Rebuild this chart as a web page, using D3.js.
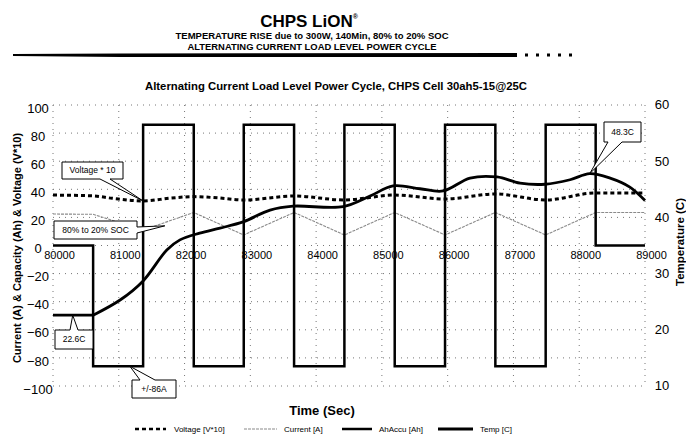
<!DOCTYPE html>
<html><head><meta charset="utf-8">
<script src="https://cdn.jsdelivr.net/npm/d3@7"></script>
<style>
body{margin:0;background:#fff;}
svg{display:block;font-family:"Liberation Sans",Arial,sans-serif;}
</style></head>
<body><svg id="c" width="686" height="436"></svg>
<script>
// ---- data ----
const xTicks = [80000,81000,82000,83000,84000,85000,86000,87000,88000,89000];
const yTicks = [-100,-80,-60,-40,-20,0,20,40,60,80,100];
const tTicks = [10,20,30,40,50,60];

// current square wave (time, A) - step after
const currentTime  = [80000,80610,81370,82140,82900,83665,84430,85195,85960,86725,87490,88250,89000];
const currentValue = [0,-86,86,-86,86,-86,86,-86,86,-86,86,0,0];

// capacity AhAccu
const capTime  = [80000,80610,81370,82140,82900,83665,84430,85195,85960,86725,87490,88250,89000];
const capValue = [22.4,22.2,11,23.5,7.5,23.5,7.5,23.5,7.5,23.5,7.5,23.5,23.5];

// voltage*10
const voltTime  = [80000,80610,80900,81370,81800,82140,82500,82900,83665,84430,85195,85960,86725,87490,88250,89000];
const voltValue = [35.9,35.3,33.6,31.7,33.8,34.8,33.9,32.4,35.2,32.4,35.9,33.1,36.7,32.4,37.4,37.4];

// temperature (C)
const tempTime  = [80000,80610,81020,81370,81730,81930,82230,82540,82890,83300,83650,84410,84820,85170,85580,85930,86340,86750,87100,87480,87860,88160,88470,88770,89000];
const tempValue = [22.6,22.6,25.3,28.7,34.2,36.0,37.2,38.1,39.2,41.3,42.0,41.9,43.8,45.6,45.1,44.7,47.0,47.2,46.1,45.9,46.7,47.8,47.0,45.4,43.0];

const svg = d3.select("#c");
const x  = d3.scaleLinear().domain([80000,89000]).range([53,645]);
const y  = d3.scaleLinear().domain([-100,100]).range([386,105]);
const yT = d3.scaleLinear().domain([10,60]).range([386,105]);
const FONT = '"Liberation Sans",Arial,sans-serif';

// ---- header ----
const t1 = svg.append("text").attr("x",309).attr("y",27).attr("text-anchor","middle")
  .attr("font-size",17).attr("font-weight","bold").text("CHPS LiON");
t1.append("tspan").attr("font-size",7).attr("dy",-8).text("®");
svg.append("text").attr("x",312).attr("y",39).attr("text-anchor","middle")
  .attr("font-size",9).attr("font-weight","bold").attr("textLength",273).attr("lengthAdjust","spacingAndGlyphs")
  .text("TEMPERATURE RISE due to 300W, 140Min, 80% to 20% SOC");
svg.append("text").attr("x",312).attr("y",50).attr("text-anchor","middle")
  .attr("font-size",9).attr("font-weight","bold").attr("textLength",249).attr("lengthAdjust","spacingAndGlyphs")
  .text("ALTERNATING CURRENT LOAD LEVEL POWER CYCLE");
svg.append("path").attr("d","M13,54 L120,53.5 L517,53 L517,57 L120,57 L13,56 Z").attr("fill","#000");
[525,536,547,558,569].forEach(px=>svg.append("rect").attr("x",px).attr("y",53.5).attr("width",3).attr("height",3).attr("fill","#000"));

svg.append("text").attr("x",336).attr("y",90).attr("text-anchor","middle")
  .attr("font-size",10).attr("font-weight","bold").attr("textLength",382).attr("lengthAdjust","spacingAndGlyphs")
  .text("Alternating Current Load Level Power Cycle, CHPS Cell 30ah5-15@25C");

// ---- gridlines ----
const grid = svg.append("g").attr("stroke","#777").attr("stroke-width",1).attr("stroke-dasharray","1,5");
grid.selectAll("line.h").data(yTicks).join("line")
  .attr("x1",x(80000)).attr("x2",x(89000)).attr("y1",d=>y(d)).attr("y2",d=>y(d));
grid.selectAll("line.v").data(xTicks).join("line")
  .attr("y1",y(100)).attr("y2",y(-100)).attr("x1",d=>x(d)).attr("x2",d=>x(d));

// ---- axes ----
const ax = svg.append("g").attr("transform",`translate(0,${y(0)})`)
  .call(d3.axisBottom(x).tickValues(xTicks).tickFormat(d3.format("d")).tickSize(0).tickPadding(6));
ax.select(".domain").remove();
ax.selectAll("text").attr("font-size",11).attr("font-family",FONT).attr("dx",6);

const ayL = svg.append("g").attr("transform",`translate(${x(80000)},0)`)
  .call(d3.axisLeft(y).tickValues(yTicks).tickSize(0));
ayL.select(".domain").remove();
ayL.selectAll("text").attr("font-size",13).attr("font-family",FONT).attr("text-anchor","middle").attr("x",-15).attr("dy","0.55em");

const ayR = svg.append("g").attr("transform",`translate(${x(89000)},0)`)
  .call(d3.axisRight(yT).tickValues(tTicks).tickSize(0));
ayR.select(".domain").remove();
ayR.selectAll("text").attr("font-size",13).attr("font-family",FONT).attr("text-anchor","middle").attr("x",17).attr("dy","0.3em");

svg.append("text").attr("transform","translate(21,248) rotate(-90)").attr("text-anchor","middle")
  .attr("font-size",11).attr("font-weight","bold").text("Current (A) & Capacity (Ah) & Voltage (V*10)");
svg.append("text").attr("transform","translate(680,242) rotate(-90)").attr("text-anchor","middle")
  .attr("dy","0.35em").attr("font-size",11.5).attr("font-weight","bold").text("Temperature (C)");
svg.append("text").attr("x",322).attr("y",415).attr("text-anchor","middle")
  .attr("font-size",13).attr("font-weight","bold").text("Time (Sec)");

// ---- series ----
const capData  = capTime.map((t,i)=>[t,capValue[i]]);
const voltData = voltTime.map((t,i)=>[t,voltValue[i]]);
const curData  = currentTime.map((t,i)=>[t,currentValue[i]]);
const tempData = tempTime.map((t,i)=>[t,tempValue[i]]);

svg.append("path").datum(capData).attr("fill","none").attr("stroke","#8a8a8a").attr("stroke-width",1.1)
  .attr("stroke-dasharray","3,1")
  .attr("d",d3.line().x(d=>x(d[0])).y(d=>y(d[1])));
svg.append("path").datum(voltData).attr("fill","none").attr("stroke","#000").attr("stroke-width",3)
  .attr("stroke-dasharray","4,3")
  .attr("d",d3.line().curve(d3.curveMonotoneX).x(d=>x(d[0])).y(d=>y(d[1])));
svg.append("path").datum(curData).attr("fill","none").attr("stroke","#000").attr("stroke-width",2.5)
  .attr("d",d3.line().curve(d3.curveStepAfter).x(d=>x(d[0])).y(d=>y(d[1])));
// temperature: flat rest segment, then smooth rise
svg.append("path").datum(tempData.slice(0,2)).attr("fill","none").attr("stroke","#000").attr("stroke-width",2.8)
  .attr("d",d3.line().x(d=>x(d[0])).y(d=>yT(d[1])));
svg.append("path").datum(tempData.slice(1)).attr("fill","none").attr("stroke","#000").attr("stroke-width",2.8)
  .attr("stroke-linejoin","round")
  .attr("d",d3.line().curve(d3.curveCatmullRom.alpha(0.5)).x(d=>x(d[0])).y(d=>yT(d[1])));

// ---- callouts ----
function callout(bx,by,bw,bh,edge,a,b,tx,ty,label){
  let p;
  if(edge==="bottom") p=`M${bx},${by}L${bx+bw},${by}L${bx+bw},${by+bh}L${b},${by+bh}L${tx},${ty}L${a},${by+bh}L${bx},${by+bh}Z`;
  else if(edge==="top") p=`M${bx},${by}L${a},${by}L${tx},${ty}L${b},${by}L${bx+bw},${by}L${bx+bw},${by+bh}L${bx},${by+bh}Z`;
  else if(edge==="right") p=`M${bx},${by}L${bx+bw},${by}L${bx+bw},${a}L${tx},${ty}L${bx+bw},${b}L${bx+bw},${by+bh}L${bx},${by+bh}Z`;
  svg.append("path").attr("d",p).attr("fill","#fff").attr("stroke","#000").attr("stroke-width",1);
  svg.append("text").attr("x",bx+bw/2).attr("y",by+bh/2).attr("dy","0.35em").attr("text-anchor","middle")
    .attr("font-size",8.5).text(label);
}
callout(62,162,61,17,"bottom",100,110, x(81370), y(31.7), "Voltage * 10");
callout(54,221,83,18,"right",227,233, x(81700), y(14), "80% to 20% SOC");
callout(55,330,38,19,"top",70,78, x(80300), yT(22.6), "22.6C");
callout(132,380,44,18,"top",140,155, x(81170), y(-86), "+/-86A");
callout(604,122,37,20,"bottom",608,622, x(88160), yT(47.8), "48.3C");

// ---- legend ----
const lg = svg.append("g").attr("font-size",8);
const ly = 429;
lg.append("line").attr("x1",135).attr("x2",166).attr("y1",ly).attr("y2",ly).attr("stroke","#000").attr("stroke-width",2.5).attr("stroke-dasharray","4,3");
lg.append("text").attr("x",174).attr("y",ly+3).text("Voltage [V*10]");
lg.append("line").attr("x1",244).attr("x2",277).attr("y1",ly).attr("y2",ly).attr("stroke","#8a8a8a").attr("stroke-width",1.2).attr("stroke-dasharray","3,1");
lg.append("text").attr("x",284).attr("y",ly+3).text("Current [A]");
lg.append("line").attr("x1",342).attr("x2",372).attr("y1",ly).attr("y2",ly).attr("stroke","#000").attr("stroke-width",2.5);
lg.append("text").attr("x",379).attr("y",ly+3).text("AhAccu [Ah]");
lg.append("line").attr("x1",438).attr("x2",473).attr("y1",ly).attr("y2",ly).attr("stroke","#000").attr("stroke-width",3);
lg.append("text").attr("x",480).attr("y",ly+3).text("Temp [C]");
</script></body></html>
